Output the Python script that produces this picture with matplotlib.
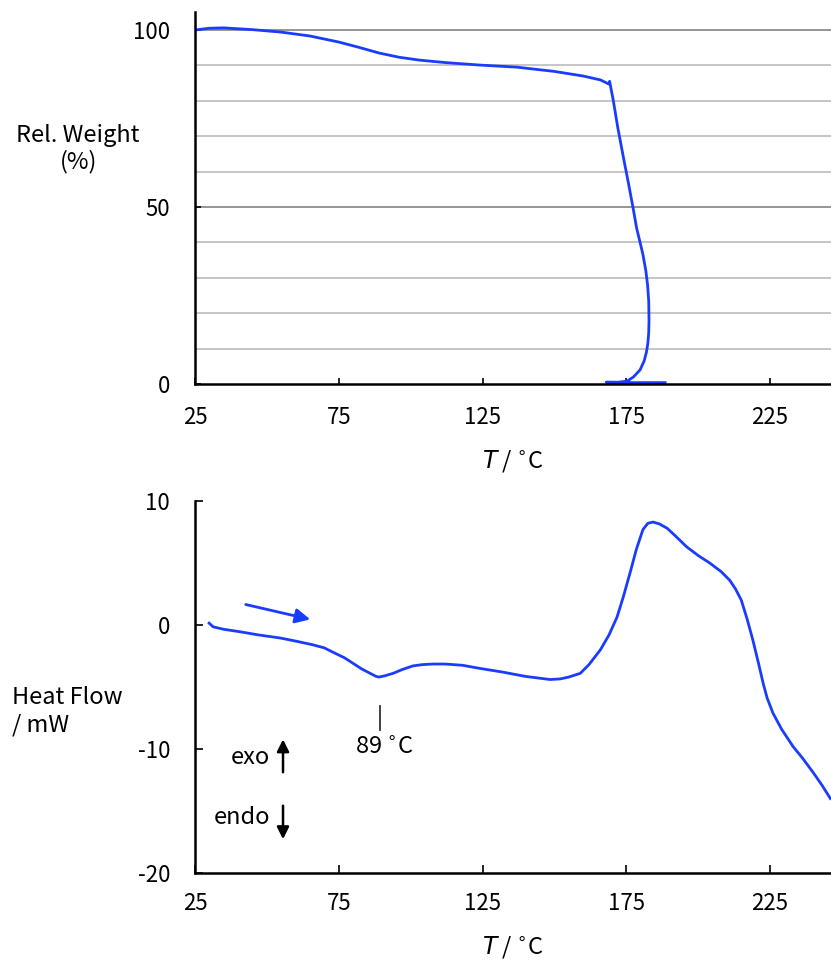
import matplotlib
matplotlib.use("Agg")
import matplotlib.pyplot as plt

plt.rcParams['font.family'] = ['Noto Sans CJK JP', 'DejaVu Sans']
plt.rcParams['axes.unicode_minus'] = False

# TGA curve (temperature / degC, relative weight / %)
tga_T = [25, 30, 35, 45, 55, 65, 75, 82, 89, 96, 103, 112, 124, 137, 150, 160, 166, 169,
         169.2, 170.5, 172, 174, 175.8, 177.3, 178.6, 179.8, 180.8, 181.8, 182.4, 182.8,
         182.9, 182.8, 182.5, 182.0, 181.2, 179.8, 177.5, 175.3, 172, 168, 178, 188.5]
tga_W = [100, 100.5, 100.6, 100.1, 99.4, 98.3, 96.6, 95.1, 93.5, 92.3, 91.5, 90.8, 90.1,
         89.5, 88.3, 87, 85.9, 84.7,
         85.5, 80, 72.6, 64, 56.5, 50, 44, 40, 36.5, 32, 28, 23.5,
         18, 14.5, 11.5, 9, 6.5, 4, 2, 0.8, 0.5, 0.5, 0.4, 0.4]

# DSC curve (temperature / degC, heat flow / mW)
dsc_T = [29.9, 30.6, 31.3, 35, 40.7, 47, 54.6, 60, 66, 70, 73, 77, 80, 83, 85.9, 88, 89,
         91, 93.9, 97, 100.8, 104, 107.8, 112, 118, 124, 132, 140, 148.5, 152, 155, 159,
         162, 166, 169, 171.8, 174, 176.3, 178.5, 180.8, 182.5, 184.3, 186.5, 189.2, 192,
         196, 200, 204, 208, 211, 213, 215, 217, 219, 221, 222.6, 224, 226, 229, 233,
         236.5, 240, 243, 246]
dsc_HF = [0.15, 0.0, -0.15, -0.35, -0.55, -0.8, -1.05, -1.3, -1.6, -1.85, -2.2, -2.65, -3.1,
          -3.55, -3.9, -4.15, -4.2, -4.1, -3.9, -3.6, -3.3, -3.2, -3.15, -3.15, -3.25, -3.5,
          -3.8, -4.15, -4.4, -4.35, -4.2, -3.9, -3.2, -2.0, -0.8, 0.65, 2.3, 4.2, 6.1, 7.7,
          8.2, 8.3, 8.15, 7.8, 7.2, 6.3, 5.6, 5.0, 4.3, 3.6, 2.9, 2.0, 0.5, -1.2, -3.1, -4.7,
          -5.9, -7.1, -8.4, -9.8, -10.8, -11.9, -12.9, -14.0]

x_ticks = [25, 75, 125, 175, 225]
blue = '#1a3cff'
fs = 16
fl = 17

fig = plt.figure(figsize=(8.31, 9.61), dpi=100)

# ---- TGA ----
ax1 = fig.add_axes([0.2347, 0.6004, 0.7653, 0.3868])
for g in range(10, 101, 10):
    c = '#8c8c8c' if g in (50, 100) else '#c0c0c0'
    ax1.axhline(g, color=c, lw=1.3, zorder=0)
ax1.plot(tga_T, tga_W, color=blue, lw=2)
ax1.set_xlim(25, 246.2)
ax1.set_ylim(0, 105)
ax1.set_xticks(x_ticks)
ax1.set_yticks([0, 50, 100])
ax1.tick_params(direction='in', length=4, width=1.2, labelsize=fs)
ax1.tick_params(axis='x', pad=16)
ax1.tick_params(axis='y', pad=18)
for s in ['top', 'right']:
    ax1.spines[s].set_visible(False)
for s in ['left', 'bottom']:
    ax1.spines[s].set_linewidth(1.8)
ax1.set_xlabel(r'$\it{T}$ / $^{\circ}$C', fontsize=fl, labelpad=14)
fig.text(0.094, 0.845, 'Rel. Weight\n(%)', ha='center', va='center', fontsize=fl,
         linespacing=1.15)

# ---- DSC ----
ax2 = fig.add_axes([0.2347, 0.0916, 0.7653, 0.3871])
ax2.plot(dsc_T, dsc_HF, color=blue, lw=2)
ax2.set_xlim(25, 246.2)
ax2.set_ylim(-20, 10)
ax2.set_xticks(x_ticks)
ax2.set_yticks([-20, -10, 0, 10])
ax2.tick_params(direction='in', length=6, width=1.2, labelsize=fs)
ax2.tick_params(axis='x', pad=14)
ax2.tick_params(axis='y', pad=18)
for s in ['top', 'right']:
    ax2.spines[s].set_visible(False)
for s in ['left', 'bottom']:
    ax2.spines[s].set_linewidth(1.8)
ax2.set_xlabel(r'$\it{T}$ / $^{\circ}$C', fontsize=fl, labelpad=14)
fig.text(0.014, 0.26, 'Heat Flow\n/ mW', ha='left', va='center', fontsize=fl,
         linespacing=1.25)

# heating direction arrow
ax2.annotate('', xy=(66, 0.4), xytext=(41.7, 1.7),
             arrowprops=dict(arrowstyle='-|>', color=blue, lw=2, mutation_scale=22))
# peak marker
ax2.plot([89.3, 89.3], [-6.5, -8.5], color='#333333', lw=1.3)
ax2.text(91, -9.9, r'89 $^{\circ}$C', ha='center', va='center', fontsize=fl)
# exo / endo
ax2.text(51, -10.65, 'exo', ha='right', va='center', fontsize=fl)
ax2.text(51, -15.56, 'endo', ha='right', va='center', fontsize=fl)
ax2.annotate('', xy=(55.6, -9.0), xytext=(55.6, -12.1),
             arrowprops=dict(arrowstyle='-|>', color='black', lw=1.8, mutation_scale=18))
ax2.annotate('', xy=(55.6, -17.5), xytext=(55.6, -14.35),
             arrowprops=dict(arrowstyle='-|>', color='black', lw=1.8, mutation_scale=18))

fig.savefig('out.png', dpi=100)
